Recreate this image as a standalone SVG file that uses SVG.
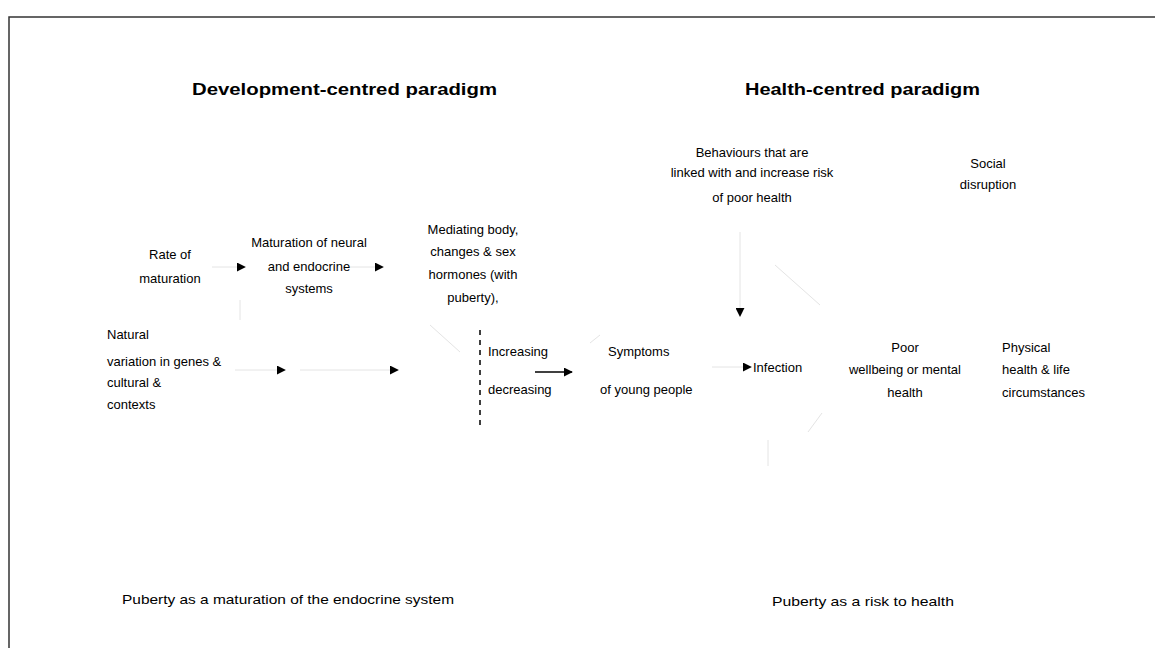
<svg xmlns="http://www.w3.org/2000/svg" width="1155" height="648" viewBox="0 0 1155 648">
<defs>
<style>
.t{font-family:"Liberation Sans",Arial,sans-serif;font-size:13px;fill:#000}
.c{text-anchor:middle}
.h{font-family:"Liberation Sans",Arial,sans-serif;font-size:16px;font-weight:bold;fill:#000}
.faint{stroke:#e4e4e4;stroke-width:1;fill:none}
.solid{stroke:#000;stroke-width:1.5;fill:none}
.dash{stroke:#000;stroke-width:1.5;stroke-dasharray:5,5;fill:none}
</style>
<marker id="ah" viewBox="0 0 10 10" refX="9" refY="5" markerWidth="9" markerHeight="9" markerUnits="userSpaceOnUse" orient="auto">
<path d="M0,0 L10,5 L0,10 z" fill="#000"/>
</marker>
</defs>
<rect width="1155" height="648" fill="#fff"/>
<path d="M9,648 V17 H1155" fill="none" stroke="#333" stroke-width="1.5"/>

<g id="title-left"><text class="h" x="192" y="95" textLength="305" lengthAdjust="spacingAndGlyphs">Development-centred paradigm</text></g>
<g id="title-right"><text class="h" x="745" y="95" textLength="235" lengthAdjust="spacingAndGlyphs">Health-centred paradigm</text></g>

<g id="node-rate"><text class="t c" x="170" y="259">Rate of</text><text class="t c" x="170" y="283">maturation</text></g>
<g id="node-neural"><text class="t c" x="309" y="247">Maturation of neural</text><text class="t c" x="309" y="271">and endocrine</text><text class="t c" x="309" y="293">systems</text></g>
<g id="node-hormones"><text class="t c" x="473" y="234">Mediating body,</text><text class="t c" x="473" y="256">changes &amp; sex</text><text class="t c" x="473" y="279">hormones (with</text><text class="t c" x="473" y="302">puberty),</text></g>
<g id="node-natural"><text class="t" x="107" y="339">Natural</text><text class="t" x="107" y="366">variation in genes &amp;</text><text class="t" x="107" y="387">cultural &amp;</text><text class="t" x="107" y="409">contexts</text></g>
<g id="node-change"><text class="t" x="488" y="356">Increasing</text><text class="t" x="488" y="394">decreasing</text></g>
<g id="node-symptoms"><text class="t" x="608" y="356">Symptoms</text><text class="t" x="600" y="394">of young people</text></g>
<g id="node-infection"><text class="t" x="753" y="372">Infection</text></g>
<g id="node-behaviour"><text class="t c" x="752" y="157">Behaviours that are</text><text class="t c" x="752" y="177">linked with and increase risk</text><text class="t c" x="752" y="202">of poor health</text></g>
<g id="node-social"><text class="t c" x="988" y="168">Social</text><text class="t c" x="988" y="189">disruption</text></g>
<g id="node-wellbeing"><text class="t c" x="905" y="352">Poor</text><text class="t c" x="905" y="374">wellbeing or mental</text><text class="t c" x="905" y="397">health</text></g>
<g id="node-physical"><text class="t" x="1002" y="352">Physical</text><text class="t" x="1002" y="374">health &amp; life</text><text class="t" x="1002" y="397">circumstances</text></g>
<g id="label-bottom-left"><text class="t" x="122" y="604" textLength="332" lengthAdjust="spacingAndGlyphs">Puberty as a maturation of the endocrine system</text></g>
<g id="label-bottom-right"><text class="t" x="772" y="606" textLength="182" lengthAdjust="spacingAndGlyphs">Puberty as a risk to health</text></g>

<g id="connectors">
<line class="faint" x1="212" y1="267" x2="245" y2="267" marker-end="url(#ah)"/>
<line class="faint" x1="350" y1="267" x2="383" y2="267" marker-end="url(#ah)"/>
<line class="faint" x1="240" y1="300" x2="240" y2="320"/>
<line class="faint" x1="235" y1="370" x2="285" y2="370" marker-end="url(#ah)"/>
<line class="faint" x1="300" y1="370" x2="398" y2="370" marker-end="url(#ah)"/>
<line class="faint" x1="430" y1="325" x2="460" y2="352"/>
<line class="dash" x1="480" y1="330" x2="480" y2="428"/>
<line class="solid" x1="535" y1="372" x2="572" y2="372" marker-end="url(#ah)"/>
<line class="faint" x1="590" y1="343" x2="600" y2="335"/>
<line class="faint" x1="740" y1="232" x2="740" y2="316" marker-end="url(#ah)"/>
<line class="faint" x1="775" y1="265" x2="820" y2="305"/>
<line class="faint" x1="712" y1="367" x2="751" y2="367" marker-end="url(#ah)"/>
<line class="faint" x1="808" y1="432" x2="822" y2="413"/>
<line class="faint" x1="768" y1="440" x2="768" y2="466"/>
</g>
</svg>
